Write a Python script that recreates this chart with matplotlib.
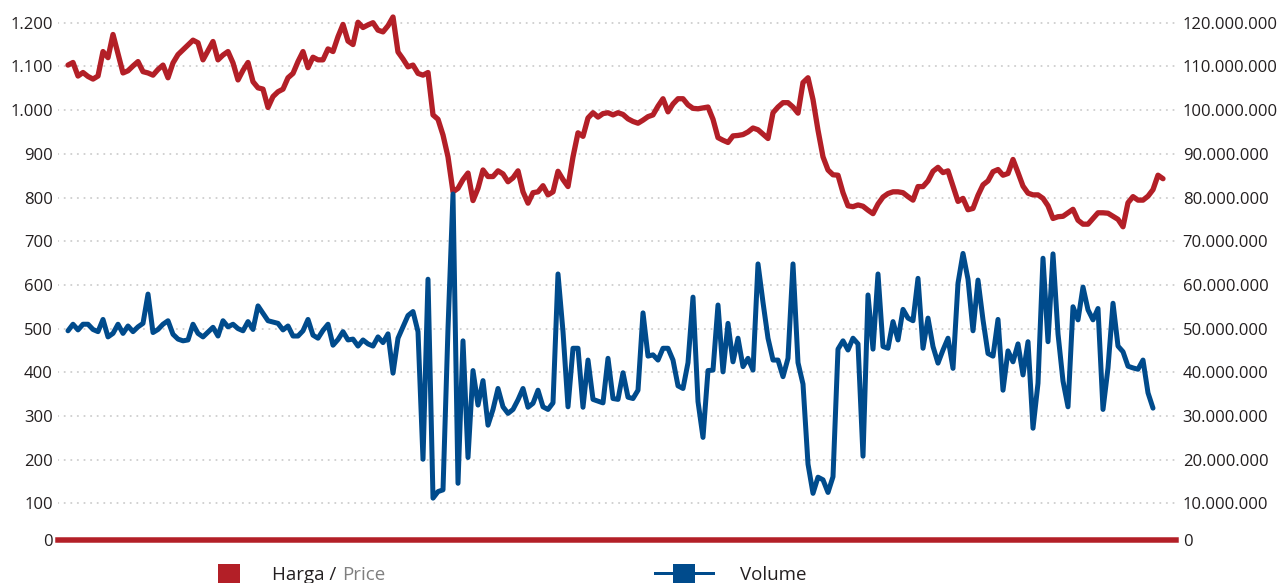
import matplotlib
matplotlib.use('Agg')
import matplotlib.pyplot as plt
from matplotlib.patches import Rectangle
from matplotlib.lines import Line2D
import numpy as np

# ---------------- data ----------------
price = [
    1103, 1109, 1078, 1086, 1077, 1071, 1078, 1134, 1120, 1173,
    1129, 1085, 1090, 1101, 1111, 1088, 1085, 1080, 1093, 1103,
    1074, 1108, 1127, 1138, 1149, 1160, 1154, 1115, 1136, 1157,
    1115, 1126, 1134, 1108, 1069, 1091, 1109, 1065, 1051, 1048,
    1006, 1031, 1042, 1048, 1074, 1084, 1111, 1134, 1097, 1121,
    1115, 1115, 1140, 1134, 1168, 1196, 1158, 1150, 1201, 1189,
    1195, 1200, 1183, 1179, 1193, 1213, 1133, 1117, 1099, 1103,
    1084, 1080, 1086, 989, 979, 943, 893, 813, 821, 841,
    856, 793, 821, 863, 848, 848, 861, 854, 836, 845,
    861, 813, 787, 811, 813, 827, 806, 813, 860, 841,
    825, 893, 948, 940, 982, 994, 984, 992, 994, 989,
    994, 990, 980, 974, 970, 977, 985, 989, 1009, 1026,
    996, 1014, 1026, 1026, 1012, 1004, 1003, 1005, 1007, 979,
    937, 931, 926, 941, 942, 944, 950, 959, 955, 945,
    935, 994, 1007, 1017, 1017, 1007, 993, 1063, 1074, 1024,
    954, 893, 863, 852, 851, 811, 781, 779, 783, 780,
    771, 763, 785, 801, 809, 813, 813, 811, 802, 794,
    825, 825, 838, 860, 869, 857, 861, 826, 791, 798,
    772, 775, 805, 829, 838, 859, 864, 851, 855, 887,
    857, 826, 810, 806, 806, 798, 781, 752, 756, 757,
    765, 773, 748, 739, 739, 752, 765, 765, 764, 757,
    750, 733, 788, 802, 794, 794, 803, 818, 851, 843,
]

volume_millions = [
    49.5, 51.0, 49.7, 51.0, 51.0, 49.8, 49.3, 52.1, 48.1, 48.9,
    51.0, 48.9, 50.6, 49.3, 50.4, 51.2, 57.9, 49.1, 49.8, 51.0,
    51.8, 48.7, 47.6, 47.2, 47.4, 51.0, 48.9, 48.1, 49.2, 50.3,
    48.3, 51.8, 50.4, 51.0, 50.0, 49.5, 51.6, 49.8, 55.2, 53.5,
    51.8, 51.5, 51.2, 49.7, 50.6, 48.3, 48.3, 49.5, 52.1, 48.5,
    47.8, 49.6, 51.0, 46.2, 47.5, 49.3, 47.4, 47.6, 46.0, 47.4,
    46.5, 46.0, 48.1, 46.8, 48.8, 39.8, 47.8, 50.4, 53.0, 53.9,
    49.3, 20.1, 61.3, 11.2, 12.7, 13.1, 50.0, 80.8, 14.6, 47.2,
    20.5, 40.4, 32.5, 38.1, 27.9, 31.5, 36.3, 32.1, 30.6, 31.5,
    33.7, 36.3, 32.0, 32.9, 35.9, 32.1, 31.5, 33.0, 62.5, 49.3,
    32.1, 45.5, 45.5, 32.0, 42.8, 33.8, 33.4, 33.0, 43.2, 34.0,
    33.8, 39.9, 34.3, 34.0, 35.9, 53.6, 43.7, 44.0, 42.8, 45.5,
    45.5, 42.8, 36.9, 36.3, 42.2, 57.2, 33.3, 25.1, 40.4, 40.5,
    55.4, 40.1, 51.2, 42.4, 47.8, 41.3, 43.2, 40.5, 64.8, 56.0,
    47.8, 42.8, 42.8, 39.0, 43.2, 64.8, 42.2, 37.3, 19.0, 12.3,
    16.0, 15.4, 12.5, 16.1, 45.3, 47.2, 45.1, 47.8, 46.5, 20.8,
    57.7, 45.3, 62.5, 45.9, 45.5, 51.6, 47.4, 54.4, 52.4, 51.8,
    61.5, 45.5, 52.4, 45.9, 42.1, 45.1, 47.8, 40.9, 60.4, 67.2,
    61.3, 49.5, 61.1, 52.0, 44.3, 43.7, 52.1, 35.9, 44.9, 42.4,
    46.5, 39.4, 47.0, 27.2, 37.5, 66.1, 47.0, 67.1, 48.8, 38.0,
    32.1, 55.0, 52.0, 59.5, 54.3, 52.0, 54.6, 31.5, 41.0, 55.8,
    46.0, 44.7, 41.4, 41.0, 40.7, 42.8, 35.3, 31.8,
]
volume = [v * 1_000_000 for v in volume_millions]

left_ticks = list(range(100, 1300, 100))
right_ticks = [v * 1_000_000 for v in range(10, 130, 10)]
label_price_a = "Harga /"
label_price_b = "Price"
label_volume = "Volume"

# ---------------- style ----------------
RED = '#b31f27'
BLUE = '#004b8c'
GRID = '#cfcfcf'
TXT = '#231f20'
GRAY = '#7f7f7f'

plt.rcParams['font.family'] = ['Open Sans', 'DejaVu Sans']

W, H, DPI = 1288, 583, 100
def pt(p):
    return p * 72.0 / DPI

fig = plt.figure(figsize=(W / DPI, H / DPI), dpi=DPI)
fig.patch.set_facecolor('white')

L, R, B = 58, 1176, 547.1
ax = fig.add_axes([L / W, (H - B) / H, (R - L) / W, B / H])
ax2 = ax.twinx()

xp = np.arange(len(price))
xv = np.arange(len(volume))
ax.plot(xp, price, color=RED, lw=pt(5.3), solid_joinstyle='round',
        solid_capstyle='round', zorder=3)
ax2.plot(xv, volume, color=BLUE, lw=pt(5.0), solid_joinstyle='round',
         solid_capstyle='round', zorder=3)

ytop = 1200 + 22.7 * 100 / 43.7
ax.set_ylim(0, ytop)
ax2.set_ylim(0, ytop * 1e5)
dx = (1163 - 68) / (len(price) - 1)
ax.set_xlim(-(68 - L) / dx, (len(price) - 1) + (R - 1163) / dx)

def fmt(v):
    return f"{v:,.0f}".replace(',', '.')

ax.set_yticks(left_ticks)
ax.set_yticklabels([fmt(v) for v in left_ticks])
ax2.set_yticks(right_ticks)
ax2.set_yticklabels([fmt(v) for v in right_ticks])
ax.set_xticks([])
ax.tick_params(axis='y', length=0, pad=pt(5.3), labelsize=12, labelcolor=TXT)
ax2.tick_params(axis='y', length=0, pad=pt(6.7), labelsize=12, labelcolor=TXT)

ax.set_axisbelow(True)
ax.yaxis.grid(True, color=GRID, linestyle=(0, (0.1, 3.2)), lw=pt(2.0),
              dash_capstyle='round')
ax.xaxis.grid(False)

for s in ['top', 'left', 'right']:
    ax.spines[s].set_visible(False)
for s in ax2.spines.values():
    s.set_visible(False)
ax.spines['bottom'].set_color(RED)
ax.spines['bottom'].set_linewidth(pt(5.5))
ax.spines['bottom'].set_position(('outward', -pt(7)))
ax.spines['bottom'].set_zorder(5)

ax.annotate('0', xy=(0, 0), xycoords=('axes fraction', 'data'),
            xytext=(-pt(5.3), pt(7)), textcoords='offset points',
            ha='right', va='center_baseline', fontsize=12, color=TXT)
ax2.annotate('0', xy=(1, 0), xycoords=('axes fraction', 'data'),
             xytext=(pt(6.7), pt(7)), textcoords='offset points',
             ha='left', va='center_baseline', fontsize=12, color=TXT)

# ---------------- legend (bottom, partly cut) ----------------
fig.add_artist(Rectangle((218 / W, (H - 586) / H), 22 / W, 22 / H,
                         transform=fig.transFigure, color=RED, lw=0))
t1 = fig.text(272 / W, (H - 580) / H, label_price_a, fontsize=13.5,
              color=TXT, va='baseline', ha='left')
fig.canvas.draw()
bb = t1.get_window_extent()
fig.text((bb.x1 + 6) / W, (H - 580) / H, label_price_b, fontsize=13.5,
         color=GRAY, va='baseline', ha='left')

fig.add_artist(Line2D([655 / W, 713 / W], [(H - 573) / H, (H - 573) / H],
                      transform=fig.transFigure, color=BLUE, lw=pt(3)))
fig.add_artist(Rectangle((673 / W, (H - 586) / H), 22 / W, 22 / H,
                         transform=fig.transFigure, color=BLUE, lw=0))
fig.text(740 / W, (H - 580) / H, label_volume, fontsize=13.5,
         color=TXT, va='baseline', ha='left')

fig.savefig('out.png', dpi=DPI)
